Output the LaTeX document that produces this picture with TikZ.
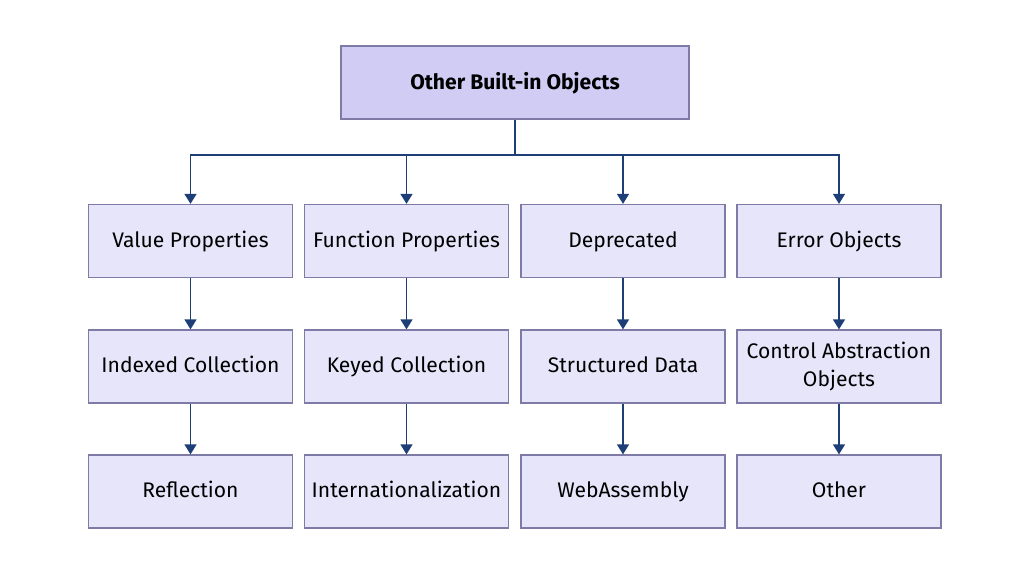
\documentclass[tikz,border=0pt]{standalone}
\usepackage{fontspec}
\setmainfont{Fira Sans}
\usetikzlibrary{arrows.meta}
\definecolor{topfill}{HTML}{D1CCF4}
\definecolor{boxfill}{HTML}{E6E5FA}
\definecolor{boxline}{HTML}{7E7BA6}
\definecolor{linkcol}{HTML}{1E3E78}
\begin{document}
\begin{tikzpicture}[x=0.025cm,y=-0.025cm,
    objbox/.style={draw=boxline,fill=boxfill,line width=0.9pt,minimum width=5.1cm,minimum height=1.825cm,align=center,font=\fontsize{15}{19.5}\selectfont,text height=2.05ex,text depth=0.4ex,inner sep=2pt},
    topbox/.style={objbox,fill=topfill,minimum width=8.7cm,font=\fontsize{15}{19.5}\selectfont\bfseries,text height=2.2ex},
    link/.style={draw=linkcol,line width=1pt},
    arr/.style={link,-{Triangle[width=0.3cm,length=0.25cm]}}]
      \useasboundingbox (0,0) rectangle (1024,579);

      \node [topbox] (top) at (515,82.5) {Other Built-in Objects};

      \node [objbox] (value) at (190.5,241) {Value Properties};
      \node [objbox] (func) at (406.5,241) {Function Properties};
      \node [objbox] (depr) at (623,241) {Deprecated};
      \node [objbox] (error) at (839,241) {Error Objects};

      \node [objbox] (indexed) at (190.5,366.5) {Indexed Collection};
      \node [objbox] (keyed) at (406.5,366.5) {Keyed Collection};
      \node [objbox] (struct) at (623,366.5) {Structured Data};
      \node [objbox,text height=,text depth=] (control) at (839,366.5) {Control Abstraction\\Objects};

      \node [objbox] (refl) at (190.5,491.5) {Reflection};
      \node [objbox] (intl) at (406.5,491.5) {Internationalization};
      \node [objbox] (wasm) at (623,491.5) {WebAssembly};
      \node [objbox] (other) at (839,491.5) {Other};

      \coordinate (bus) at (515,155);
      \draw [link] (top.south) -- (bus);
      \draw [arr] (bus) -| (value.north);
      \draw [arr] (bus) -| (func.north);
      \draw [arr] (bus) -| (depr.north);
      \draw [arr] (bus) -| (error.north);

      \draw [arr] (value) -- (indexed);
      \draw [arr] (func) -- (keyed);
      \draw [arr] (depr) -- (struct);
      \draw [arr] (error) -- (control);

      \draw [arr] (indexed) -- (refl);
      \draw [arr] (keyed) -- (intl);
      \draw [arr] (struct) -- (wasm);
      \draw [arr] (control) -- (other);
    \end{tikzpicture}
\end{document}
